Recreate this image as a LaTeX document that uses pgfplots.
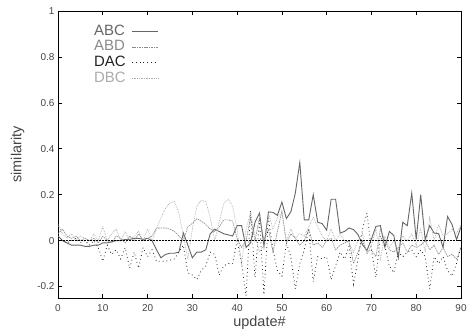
\documentclass[border=0pt]{standalone}
\usepackage{fontspec}
\setmainfont{Liberation Sans}
\usepackage{pgfplots}
\usepackage{pgfplotstable}
\pgfplotsset{compat=1.18}
\definecolor{cabc}{HTML}{666666}
\definecolor{cabd}{HTML}{8A8A8A}
\definecolor{cdac}{HTML}{222222}
\definecolor{cdbc}{HTML}{ABABAB}
\definecolor{ctxt}{HTML}{444444}
\pgfplotstableread{
t abc abd dac dbc
0 0.02 0.03 0.01 0.07
1 0.0 0.05 0.0 0.03
2 -0.01 0.02 -0.01 0.01
3 -0.02 0.01 0.0 0.03
4 -0.02 0.02 0.01 0.0
5 -0.02 0.0 -0.01 0.02
6 -0.025 0.01 0.0 0.01
7 -0.025 0.0 -0.02 0.0
8 -0.02 0.01 0.0 0.03
9 -0.02 -0.01 -0.03 0.0
10 -0.01 0.02 -0.09 0.06
11 -0.01 0.0 -0.02 0.0
12 -0.005 -0.01 -0.06 0.03
13 0.0 0.02 -0.04 0.05
14 0.0 0.01 -0.08 0.0
15 0.005 -0.01 -0.03 0.04
16 0.005 0.02 -0.12 0.0
17 0.01 0.0 -0.05 0.02
18 0.01 0.03 -0.12 0.04
19 0.005 0.0 -0.03 0.0
20 0.01 0.01 -0.07 0.05
21 0.0 0.02 -0.04 0.0
22 -0.04 0.055 -0.09 0.05
23 -0.075 0.055 -0.09 0.1
24 -0.06 0.055 -0.09 0.14
25 -0.055 0.05 -0.085 0.165
26 -0.055 0.04 -0.08 0.17
27 -0.05 0.02 -0.05 0.12
28 0.033 0.0 -0.02 0.02
29 -0.02 0.06 -0.14 -0.08
30 -0.075 0.075 -0.15 0.05
31 -0.05 0.095 -0.17 0.15
32 -0.05 0.085 -0.13 0.175
33 -0.04 0.07 -0.11 0.17
34 0.03 0.05 -0.05 0.1
35 0.05 0.04 -0.06 0.0
36 0.04 0.06 -0.15 0.08
37 0.03 0.09 -0.11 0.16
38 0.025 0.09 -0.1 0.18
39 0.02 0.085 -0.1 0.15
40 0.065 0.01 0.0 0.05
41 0.065 -0.03 -0.1 -0.1
42 -0.03 0.0 -0.24 0.05
43 -0.01 0.1 0.13 0.12
44 0.08 0.0 -0.16 0.02
45 0.12 0.1 0.09 -0.05
46 -0.025 0.0 -0.235 -0.02
47 0.125 0.05 0.1 0.12
48 0.123 -0.05 -0.04 0.05
49 0.11 0.04 -0.13 0.1
50 0.168 0.13 -0.155 0.12
51 0.096 -0.01 -0.01 0.0
52 0.125 0.03 -0.07 0.05
53 0.207 0.01 -0.21 0.01
54 0.34 -0.02 -0.1 0.03
55 0.09 0.0 -0.04 0.02
56 0.09 0.05 0.05 0.06
57 0.2 -0.02 -0.18 0.1
58 0.08 -0.01 -0.07 0.06
59 0.074 -0.03 -0.08 0.02
60 0.045 0.0 -0.07 0.0
61 0.18 0.01 -0.17 0.05
62 0.18 -0.04 -0.11 0.0
63 0.033 -0.02 -0.05 0.03
64 0.04 -0.01 -0.08 0.0
65 0.055 0.0 -0.025 -0.01
66 0.048 -0.1 -0.19 -0.05
67 0.026 -0.05 -0.08 0.0
68 -0.017 0.0 0.05 0.03
69 -0.043 -0.05 0.12 -0.06
70 0.007 -0.04 -0.04 -0.02
71 0.062 -0.07 -0.16 0.05
72 0.065 0.05 0.02 -0.08
73 -0.029 0.0 -0.025 0.02
74 0.04 -0.04 -0.11 -0.03
75 0.022 -0.05 -0.14 0.0
76 -0.075 -0.03 -0.05 -0.04
77 0.08 -0.01 -0.07 0.02
78 0.065 -0.05 -0.05 0.0
79 0.207 -0.02 -0.04 0.03
80 0.004 -0.03 -0.07 -0.02
81 0.2 -0.02 -0.04 0.05
82 0.004 0.0 -0.07 -0.05
83 0.065 -0.04 -0.21 0.1
84 0.033 -0.02 -0.07 0.0
85 0.03 -0.06 -0.1 0.07
86 -0.03 -0.03 -0.07 0.02
87 0.105 -0.07 -0.13 0.03
88 0.07 -0.06 -0.155 0.05
89 0.004 -0.08 -0.1 0.03
90 0.06 -0.03 -0.025 0.07
}\datatable
\begin{document}
\begin{tikzpicture}
\begin{axis}[
  scale only axis,
  width=403bp, height=287bp,
  xmin=0, xmax=90, ymin=-0.25, ymax=1,
  xtick={0,10,...,90},
  ytick={-0.2,0,0.2,0.4,0.6,0.8,1},
  yticklabels={-0.2,0,0.2,0.4,0.6,0.8,1},
  tick align=inside,
  major tick length=4bp,
  axis line style={line width=0.9bp, black},
  tick style={line width=0.6bp, black},
  /pgf/number format/assume math mode=true,
  ticklabel style={font=\fontsize{10}{12}\selectfont, text=ctxt},
  xticklabel style={yshift=-3bp},
  xlabel={update\#},
  ylabel={similarity},
  label style={font=\fontsize{14.5}{16}\selectfont, text=ctxt},
  xlabel style={yshift=2bp},
  ylabel style={yshift=6bp},
  legend style={
    draw=none, fill=none,
    at={(rel axis cs:0.089,0.955)}, anchor=north west,
    font=\fontsize{15}{15}\selectfont,
    inner sep=0pt, row sep=1.7bp, column sep=6bp,
    nodes={inner sep=0pt, text height=11bp, text depth=3bp},
  },
  legend plot pos=right,
  legend cell align=left,
  legend image code/.code={\draw[#1] (0bp,0bp) -- (26bp,0bp);},
]
\addplot[cabc, line width=0.9bp] table[x=t,y=abc] {\datatable};
\addlegendentry[text=cabc]{ABC}
\addplot[cabd, line width=0.6bp, dash pattern=on 1.6bp off 0.8bp] table[x=t,y=abd] {\datatable};
\addlegendentry[text=cabd]{ABD}
\addplot[cdac, line width=0.8bp, dash pattern=on 0.8bp off 3bp] table[x=t,y=dac] {\datatable};
\addlegendentry[text=cdac]{DAC}
\addplot[cdbc, line width=0.7bp, dash pattern=on 0.7bp off 1bp] table[x=t,y=dbc] {\datatable};
\addlegendentry[text=cdbc]{DBC}
\addplot[black, line width=0.5bp, dash pattern=on 0.6bp off 0.9bp, forget plot] coordinates {(0,0) (90,0)};
\end{axis}
\pgfresetboundingbox
\path[use as bounding box] ([xshift=-58bp,yshift=-36bp]current axis.south west) rectangle ([xshift=6bp,yshift=11bp]current axis.north east);
\end{tikzpicture}
\end{document}
